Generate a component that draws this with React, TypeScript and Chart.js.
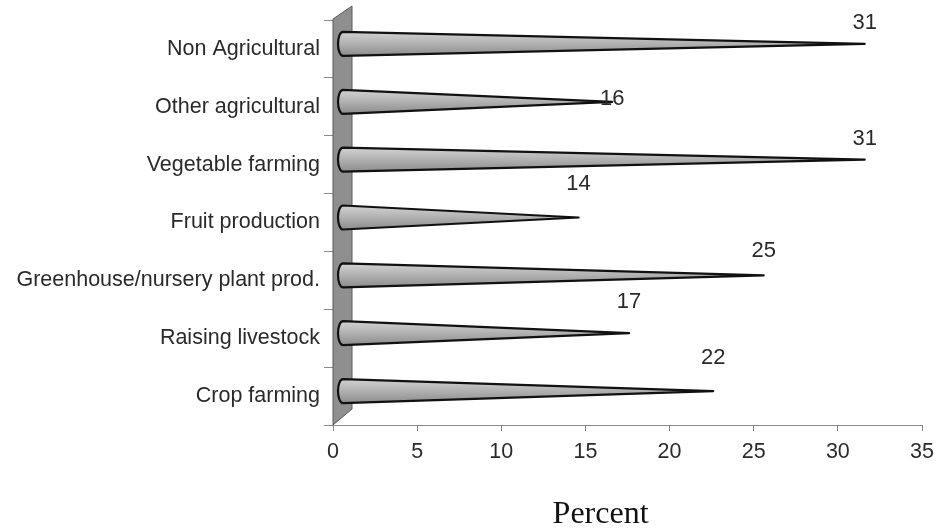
import React, { useEffect, useRef } from "react";
import { Chart, registerables } from "chart.js";

Chart.register(...registerables);

// Share of respondents by type of farm business (percent)
const categories = [
  "Non Agricultural",
  "Other agricultural",
  "Vegetable farming",
  "Fruit production",
  "Greenhouse/nursery plant prod.",
  "Raising livestock",
  "Crop farming",
];
const percents = [31, 16, 31, 14, 25, 17, 22];
const xMin = 0;
const xMax = 35;
const xStep = 5;
const axisTitle = "Percent";

// vertical lift of each value label above its cone's axis (px)
const labelLift = [21, 3, 21, 34, 24, 31, 33];

// pseudo-3D depth shift of the cones relative to the front plane
const DEPTH_X = 10;
const DEPTH_Y = -5;
const CONE_R = 12;
const CONE_RX = 5;

const SANS = "'Liberation Sans', Arial, sans-serif";
const SERIF = "'Liberation Serif', 'Times New Roman', serif";

const wallPlugin = {
  id: "wall",
  beforeDatasetsDraw(chart: any) {
    const { ctx, chartArea } = chart;
    const { left, top, bottom } = chartArea;
    ctx.save();
    ctx.beginPath();
    ctx.moveTo(left, top - 1);
    ctx.lineTo(left + 19, top - 14);
    ctx.lineTo(left + 19, bottom - 16);
    ctx.lineTo(left, bottom);
    ctx.closePath();
    ctx.fillStyle = "#8f8f8f";
    ctx.fill();
    ctx.lineWidth = 1;
    ctx.strokeStyle = "#5a5a5a";
    ctx.stroke();
    ctx.restore();
  },
};

const conePlugin = {
  id: "cones",
  afterDatasetsDraw(chart: any) {
    const { ctx } = chart;
    const xs = chart.scales.x;
    const ys = chart.scales.y;
    ctx.save();
    percents.forEach((v, i) => {
      const base = xs.getPixelForValue(0) + DEPTH_X;
      const tip = xs.getPixelForValue(v) + DEPTH_X;
      const yc = ys.getPixelForValue(i) + DEPTH_Y;
      const g = ctx.createLinearGradient(0, yc - CONE_R, 0, yc + CONE_R);
      g.addColorStop(0, "#d2d2d2");
      g.addColorStop(0.45, "#b4b4b4");
      g.addColorStop(1, "#8c8c8c");
      ctx.beginPath();
      ctx.moveTo(base, yc - CONE_R);
      ctx.lineTo(tip, yc);
      ctx.lineTo(base, yc + CONE_R);
      ctx.ellipse(base, yc, CONE_RX, CONE_R, 0, Math.PI / 2, (3 * Math.PI) / 2);
      ctx.closePath();
      ctx.fillStyle = g;
      ctx.fill();
      ctx.lineWidth = 2.2;
      ctx.lineJoin = "round";
      ctx.strokeStyle = "#111";
      ctx.stroke();
    });
    ctx.font = `22px ${SANS}`;
    ctx.fillStyle = "#2a2a2a";
    ctx.textAlign = "center";
    ctx.textBaseline = "middle";
    percents.forEach((v, i) => {
      const tip = xs.getPixelForValue(v) + DEPTH_X;
      const yc = ys.getPixelForValue(i) + DEPTH_Y;
      ctx.fillText(String(v), tip, yc - labelLift[i]);
    });
    // axis caption sits left of the axis midpoint
    ctx.font = `32px ${SERIF}`;
    ctx.fillStyle = "#111";
    ctx.fillText(axisTitle, xs.getPixelForValue(15.9), xs.bottom - 14);
    ctx.restore();
  },
};

export default function App() {
  const canvasRef = useRef<HTMLCanvasElement | null>(null);

  useEffect(() => {
    const canvas = canvasRef.current;
    if (!canvas) return;
    const chart = new Chart(canvas, {
      type: "bar",
      data: {
        labels: categories,
        datasets: [
          {
            data: percents,
            backgroundColor: "rgba(0,0,0,0)",
            borderWidth: 0,
          },
        ],
      },
      options: {
        indexAxis: "y",
        responsive: false,
        animation: false,
        layout: { padding: { top: 20, right: 17, left: 0, bottom: 0 } },
        plugins: {
          legend: { display: false },
          tooltip: { enabled: false },
        },
        scales: {
          x: {
            type: "linear",
            min: xMin,
            max: xMax,
            ticks: {
              stepSize: xStep,
              color: "#2a2a2a",
              font: { family: SANS, size: 21.5 },
              padding: 8,
            },
            grid: {
              drawOnChartArea: false,
              tickLength: 6,
              color: "#8a8a8a",
            },
            border: { color: "#8a8a8a", width: 1 },
            afterFit: (s: any) => {
              s.height = 104;
              s.paddingLeft = 0;
              s.paddingRight = 0;
            },
          },
          y: {
            type: "category",
            ticks: {
              color: "#2a2a2a",
              font: { family: SANS, size: 21.5 },
              padding: 4,
            },
            grid: {
              offset: true,
              drawOnChartArea: false,
              tickLength: 9,
              color: "#8a8a8a",
            },
            border: { display: false },
            afterFit: (s: any) => {
              s.width = 333;
            },
          },
        },
      } as any,
      plugins: [wallPlugin, conePlugin],
    });
    return () => chart.destroy();
  }, []);

  return (
    <div style={{ position: "fixed", left: 0, top: 0, width: 939, height: 529, background: "#fff" }}>
      <canvas ref={canvasRef} width={939} height={529} />
    </div>
  );
}
